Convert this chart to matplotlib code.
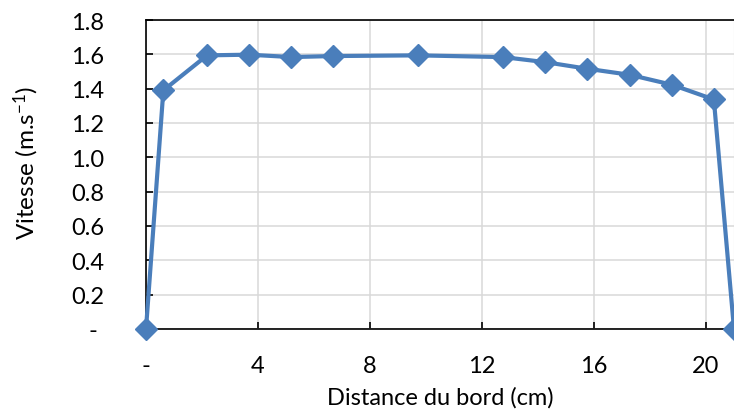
import matplotlib.pyplot as plt
from matplotlib.ticker import FixedLocator, FuncFormatter

plt.rcParams['font.family'] = ['Lato', 'DejaVu Sans']
plt.rcParams['mathtext.default'] = 'regular'

# distance from the edge (cm) and velocity (m/s)
distance = [0.0, 0.62, 2.18, 3.67, 5.19, 6.68, 9.70, 12.75, 14.24, 15.76,
            17.27, 18.78, 20.28, 21.0]
vitesse = [0.0, 1.39, 1.594, 1.598, 1.584, 1.59, 1.594, 1.584, 1.555, 1.516,
           1.481, 1.423, 1.337, 0.0]

x_ticks = [0, 4, 8, 12, 16, 20]
y_ticks = [0, 0.2, 0.4, 0.6, 0.8, 1.0, 1.2, 1.4, 1.6, 1.8]

fig = plt.figure(figsize=(7.34, 4.14), dpi=100)
ax = fig.add_axes([146 / 734, 1 - 330 / 414, 1 - 146 / 734, (330 - 21) / 414])

ax.plot(distance, vitesse, color='#4A7EBB', lw=3, marker='D', ms=11,
        mfc='#4A7EBB', mec='#4A7EBB', clip_on=False, zorder=3)

ax.set_xlim(0, 21)
ax.set_ylim(0, 1.8)
ax.xaxis.set_major_locator(FixedLocator(x_ticks))
ax.yaxis.set_major_locator(FixedLocator(y_ticks))
ax.xaxis.set_major_formatter(FuncFormatter(lambda v, p: '-' if v == 0 else f'{v:.0f}'))
ax.yaxis.set_major_formatter(FuncFormatter(lambda v, p: '- ' if v == 0 else f'{v:.1f}'))

ax.grid(True, color='#D9D9D9', lw=1.1)
ax.set_axisbelow(True)
for s in ['left', 'bottom', 'top']:
    ax.spines[s].set_color('black')
    ax.spines[s].set_linewidth(1.2)
ax.spines['right'].set_color('#D9D9D9')

ax.tick_params(axis='x', direction='in', length=5, width=1.2, pad=19, labelsize=17)
ax.tick_params(axis='y', direction='in', length=5, width=1.2, pad=30, labelsize=17)

ax.set_xlabel('Distance du bord (cm)', fontsize=17, labelpad=7)
ax.set_ylabel('Vitesse (m.s$^{-1}$)', fontsize=17.5)
ax.yaxis.set_label_coords(-0.178, 0.54)

fig.savefig('out.png', dpi=100)
